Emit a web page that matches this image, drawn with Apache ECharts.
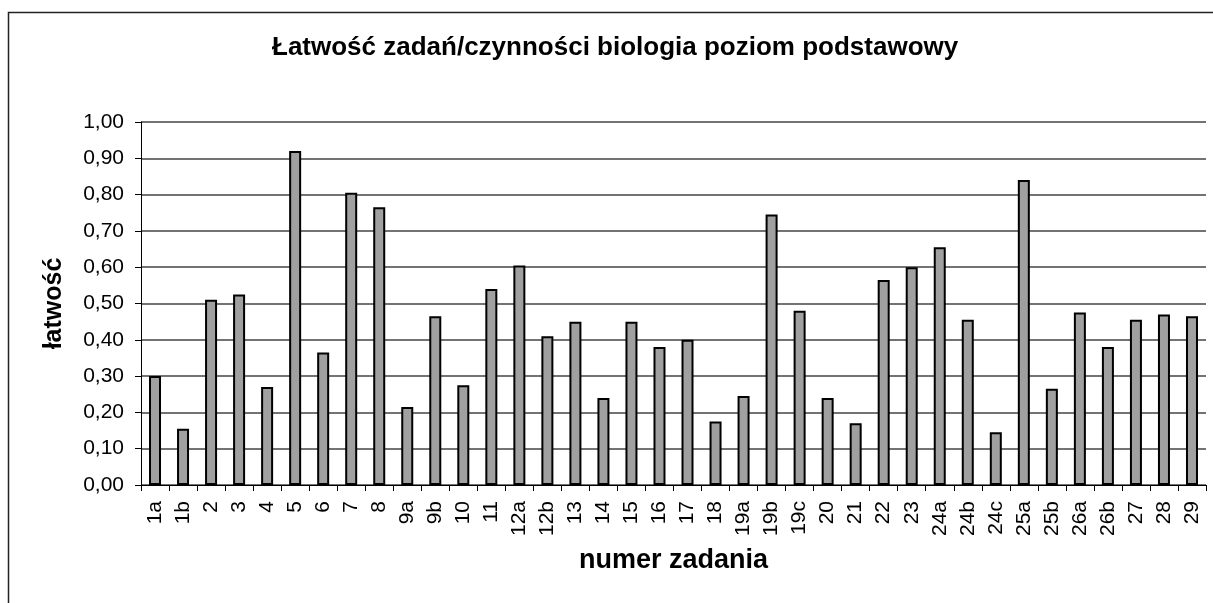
<!DOCTYPE html>
<html>
<head>
<meta charset="utf-8">
<title>Łatwość zadań</title>
<script src="https://cdn.jsdelivr.net/npm/echarts@6/dist/echarts.min.js"></script>
<style>
    html, body { margin: 0; padding: 0; background: #fff; }
    #chart { width: 1213px; height: 603px; }
</style>
</head>
<body>
<div id="chart"></div>
<script>
    var categories = ['1a', '1b', '2', '3', '4', '5', '6', '7', '8', '9a', '9b', '10', '11', '12a', '12b', '13', '14', '15', '16', '17',
        '18', '19a', '19b', '19c', '20', '21', '22', '23', '24a', '24b', '24c', '25a', '25b', '26a', '26b', '27', '28', '29'];
    var latwosc = [0.30, 0.155, 0.51, 0.525, 0.27, 0.92, 0.365, 0.805, 0.765, 0.215, 0.465, 0.275, 0.54, 0.605, 0.41, 0.45, 0.24, 0.45, 0.38, 0.40,
        0.175, 0.245, 0.745, 0.48, 0.24, 0.17, 0.565, 0.60, 0.655, 0.455, 0.145, 0.84, 0.265, 0.475, 0.38, 0.455, 0.47, 0.465];
    var yTicks = [0, 1, 0.1]; // min, max, step

    var font = '"Liberation Sans", Arial, sans-serif';

    var chart = echarts.init(document.getElementById('chart'));

    var option = {
        animation: false,
        title: {
            text: 'Łatwość zadań/czynności biologia poziom podstawowy',
            left: 272,
            top: 35,
            padding: 0,
            textStyle: { fontFamily: font, fontSize: 26, fontWeight: 'bold', color: '#000' }
        },
        // ramka wykresu
        graphic: [{
            type: 'rect',
            z: -1,
            shape: { x: 8.5, y: 12.5, width: 1400, height: 800 },
            style: { fill: 'none', stroke: '#222', lineWidth: 1.5 }
        }],
        grid: {
            left: 141,
            right: 7,
            top: 122,
            bottom: 118,
            outerBoundsMode: 'none'
        },
        xAxis: {
            type: 'category',
            data: categories,
            name: 'numer zadania',
            nameLocation: 'middle',
            nameGap: 62,
            nameTextStyle: { fontFamily: font, fontSize: 27, fontWeight: 'bold', color: '#000' },
            axisLine: { lineStyle: { color: '#000', width: 1 } },
            axisTick: { show: true, length: 6, lineStyle: { color: '#000' } },
            axisLabel: {
                interval: 0,
                rotate: 90,
                margin: 16,
                fontFamily: font,
                fontSize: 21,
                color: '#000'
            }
        },
        yAxis: {
            type: 'value',
            min: yTicks[0],
            max: yTicks[1],
            interval: yTicks[2],
            name: 'łatwość',
            nameLocation: 'middle',
            nameGap: 74,
            nameTextStyle: { fontFamily: font, fontSize: 25, fontWeight: 'bold', color: '#000' },
            axisLine: { show: true, lineStyle: { color: '#000', width: 1 } },
            axisTick: { show: true, length: 6, lineStyle: { color: '#000' } },
            axisLabel: {
                margin: 17,
                fontFamily: font,
                fontSize: 21,
                color: '#000',
                formatter: function (v) {
                    return v.toFixed(2).replace('.', ',');
                }
            },
            splitLine: { show: true, lineStyle: { color: '#444', width: 1.5 } }
        },
        series: [
            {
                name: 'łatwość',
                type: 'bar',
                data: latwosc,
                barWidth: 12,
                itemStyle: { color: '#a0a0a0', borderColor: '#000', borderWidth: 2 }
            }
        ]
    };

    chart.setOption(option);
</script>
</body>
</html>
